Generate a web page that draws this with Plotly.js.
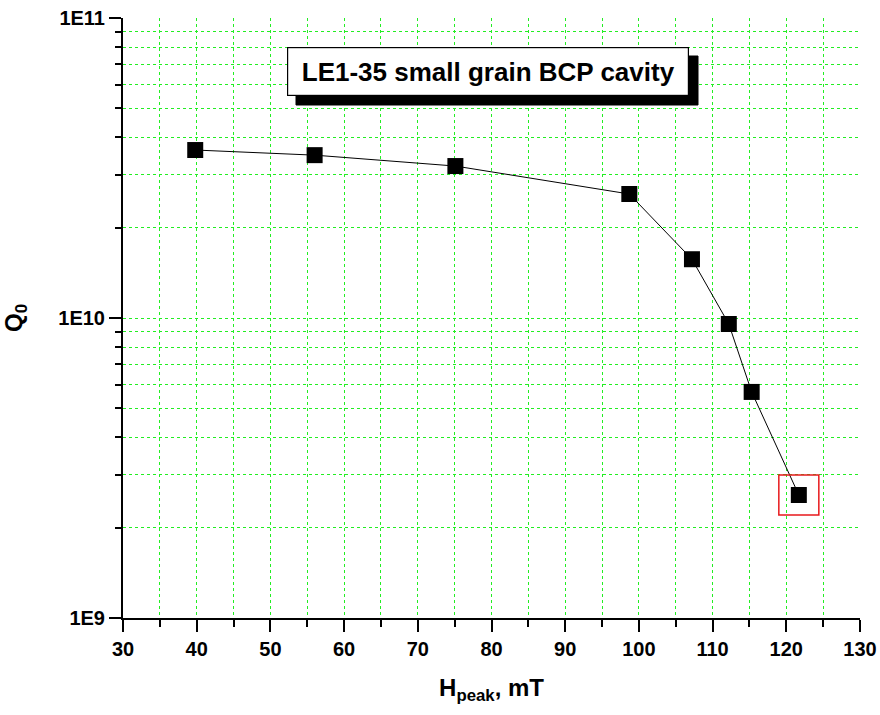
<!DOCTYPE html>
<html>
<head>
<meta charset="utf-8">
<script src="https://cdn.plot.ly/plotly-3.0.1.min.js"></script>
<style>html,body{margin:0;padding:0;background:#fff;}#chart{width:880px;height:715px;}</style>
</head>
<body>
<div id="chart"></div>
<script>
// Data
const hPeak = [39.8, 56.0, 75.1, 98.7, 107.2, 112.2, 115.3, 121.7];   // mT
const q0 = [3.63e10, 3.49e10, 3.21e10, 2.59e10, 1.57e10, 9.55e9, 5.67e9, 2.57e9];
const xTickVals = [30, 40, 50, 60, 70, 80, 90, 100, 110, 120, 130];
const xTickText = ['30', '40', '50', '60', '70', '80', '90', '100', '110', '120', '130'];
const yTickVals = [1e9, 1e10, 1e11];
const yTickText = ['1E9', '1E10', '1E11'];
const chartTitle = 'LE1-35 small grain BCP cavity';
const highlightIndex = hPeak.length - 1;

const gridGreen = '#22ee22';
const font = 'Liberation Sans, Arial, sans-serif';
const bold = s => '<b>' + s + '</b>';

const traces = [
  {
    x: hPeak, y: q0, type: 'scatter', mode: 'lines+markers',
    line: {color: '#000', width: 1},
    marker: {symbol: 'square', size: 16, color: '#000'},
    hoverinfo: 'x+y', showlegend: false
  },
  {
    x: [hPeak[highlightIndex]], y: [q0[highlightIndex]], type: 'scatter', mode: 'markers',
    marker: {symbol: 'square-open', size: 40, color: '#e8191c', line: {color: '#e8191c', width: 1.5}},
    hoverinfo: 'skip', showlegend: false
  }
];

const layout = {
  width: 880, height: 715,
  margin: {l: 123, r: 20, t: 18, b: 97},
  paper_bgcolor: '#fff', plot_bgcolor: '#fff',
  font: {family: font, color: '#000'},
  xaxis: {
    range: [30, 130], tickvals: xTickVals, ticktext: xTickText.map(bold),
    showgrid: false, zeroline: false,
    showline: true, linecolor: '#000', linewidth: 2,
    ticks: 'outside', ticklen: 12, tickwidth: 2, tickcolor: '#000',
    tickfont: {family: font, size: 20, color: '#000'},
    minor: {dtick: 5, tick0: 35, ticks: 'outside', ticklen: 7, tickwidth: 2, tickcolor: '#000',
            showgrid: true, gridcolor: gridGreen, griddash: 'dot', gridwidth: 1},
    title: {text: '<b>H<sub>peak</sub>, mT</b>', font: {family: font, size: 24, color: '#000'}, standoff: 20}
  },
  yaxis: {
    type: 'log', range: [9, 11],
    tickvals: yTickVals, ticktext: yTickText.map(bold),
    showgrid: false, zeroline: false,
    showline: true, linecolor: '#000', linewidth: 2,
    ticks: 'outside', ticklen: 12, tickwidth: 2, tickcolor: '#000',
    tickfont: {family: font, size: 20, color: '#000'},
    minor: {dtick: 'D1', ticks: 'outside', ticklen: 6, tickwidth: 2, tickcolor: '#000',
            showgrid: true, gridcolor: gridGreen, griddash: 'dot', gridwidth: 1},
    title: {text: '<b>Q<sub>0</sub></b>', font: {family: font, size: 24, color: '#000'}, standoff: 31}
  },
  shapes: [
    // drop shadow of the title box
    {type: 'rect', xref: 'paper', yref: 'paper', layer: 'above',
     x0: (296 - 123) / 737, x1: (698 - 123) / 737, y0: (618 - 105) / 600, y1: (618 - 56) / 600,
     fillcolor: '#000', line: {color: '#000', width: 1}}
  ],
  annotations: [
    {
      text: bold(chartTitle), xref: 'paper', yref: 'paper',
      x: (488 - 123) / 737, y: (618 - 71.5) / 600, xanchor: 'center', yanchor: 'middle',
      showarrow: false, font: {family: font, size: 26, color: '#000'},
      width: 386, height: 33, borderpad: 7, borderwidth: 1.2,
      bgcolor: '#fff', bordercolor: '#000'
    }
  ]
};

Plotly.newPlot('chart', traces, layout, {staticPlot: true, displayModeBar: false});
</script>
</body>
</html>
